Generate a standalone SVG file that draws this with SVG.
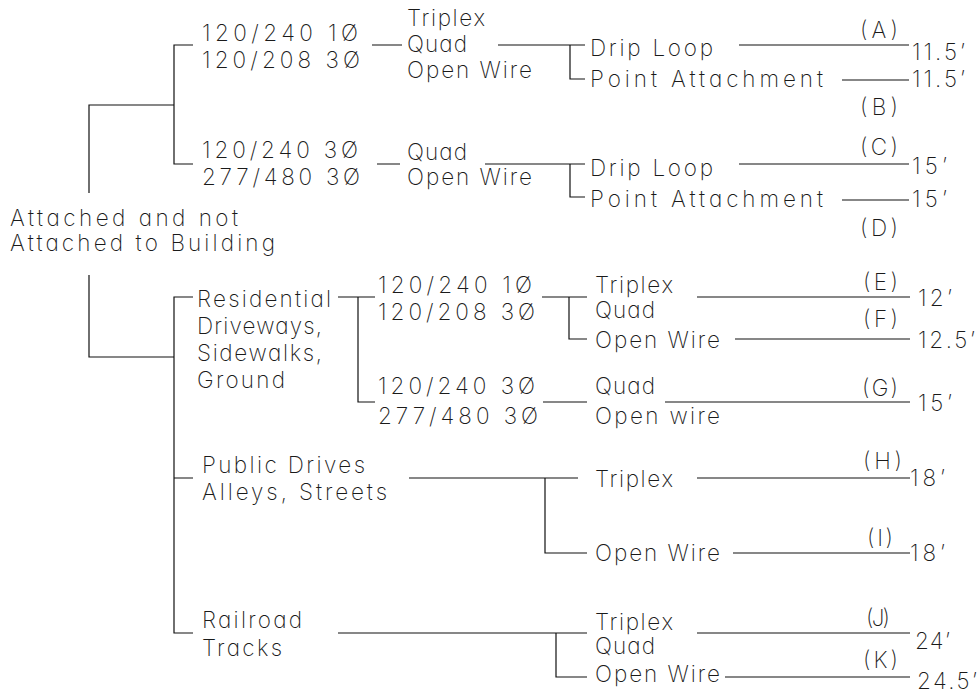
<svg xmlns="http://www.w3.org/2000/svg" width="980" height="698" viewBox="0 0 980 698">
<style>
.t{font-family:Inter,"Liberation Sans",sans-serif;font-size:22.5px;font-weight:250;fill:#1a1a1a;font-feature-settings:"cv11"}
.c{fill:none;stroke:#111;stroke-width:1.2}
</style>
<rect width="980" height="698" fill="#fff"/>
<g id="connectors" class="c">
<path d="M89,193V105H174M193,45H174V164H193"/>
<path d="M372,45H402M498,45H585M570,45V79H585M739,45H909M842,80H909"/>
<path d="M377,164H400M485,164H585M570,164V197H585M739,164H909M842,200H909"/>
<path d="M89,275V357H174M193,297H174V633H193M174,478H193"/>
<path d="M338,297H375M358,297V402H375M542,297H587M569,297V339H587M543,402H587M697,297H910M735,339H910M665,402H910"/>
<path d="M409,478H578M545,478V553H587M697,478H910M733,553H910"/>
<path d="M338,633H587M556,633V677H587M697,633H910M725,677H910"/>
</g>
<g id="root"><text class="t" x="10" y="226" textLength="228" lengthAdjust="spacing">Attached and not</text><text class="t" x="10" y="251" textLength="265" lengthAdjust="spacing">Attached to Building</text></g>
<g id="v1"><text class="t" x="202" y="41" textLength="156" lengthAdjust="spacing">120/240 1Ø</text><text class="t" x="202" y="68" textLength="158" lengthAdjust="spacing">120/208 3Ø</text></g>
<g id="w1"><text class="t" x="407" y="26" textLength="78" lengthAdjust="spacing">Triplex</text><text class="t" x="407" y="52" textLength="60" lengthAdjust="spacing">Quad</text><text class="t" x="407" y="78" textLength="125" lengthAdjust="spacing">Open Wire</text></g>
<g id="m1"><text class="t" x="590" y="56" textLength="123" lengthAdjust="spacing">Drip Loop</text><text class="t" x="590" y="87" textLength="233" lengthAdjust="spacing">Point Attachment</text></g>
<g id="rA"><text class="t" x="860" y="38" textLength="38" lengthAdjust="spacing">(A)</text><text class="t" x="912" y="60" textLength="53" lengthAdjust="spacing">11.5’</text></g>
<g id="rB"><text class="t" x="912" y="87" textLength="53" lengthAdjust="spacing">11.5’</text><text class="t" x="860" y="115" textLength="38" lengthAdjust="spacing">(B)</text></g>
<g id="v2"><text class="t" x="202" y="158" textLength="156" lengthAdjust="spacing">120/240 3Ø</text><text class="t" x="202" y="185" textLength="158" lengthAdjust="spacing">277/480 3Ø</text></g>
<g id="w2"><text class="t" x="407" y="160" textLength="60" lengthAdjust="spacing">Quad</text><text class="t" x="407" y="185" textLength="125" lengthAdjust="spacing">Open Wire</text></g>
<g id="m2"><text class="t" x="590" y="176" textLength="123" lengthAdjust="spacing">Drip Loop</text><text class="t" x="590" y="207" textLength="233" lengthAdjust="spacing">Point Attachment</text></g>
<g id="rC"><text class="t" x="860" y="155" textLength="38" lengthAdjust="spacing">(C)</text><text class="t" x="912" y="174" textLength="35" lengthAdjust="spacing">15’</text></g>
<g id="rD"><text class="t" x="912" y="207" textLength="35" lengthAdjust="spacing">15’</text><text class="t" x="860" y="236" textLength="38" lengthAdjust="spacing">(D)</text></g>
<g id="res"><text class="t" x="197" y="307" textLength="134" lengthAdjust="spacing">Residential</text><text class="t" x="197" y="334" textLength="125" lengthAdjust="spacing">Driveways,</text><text class="t" x="197" y="361" textLength="125" lengthAdjust="spacing">Sidewalks,</text><text class="t" x="197" y="388" textLength="88" lengthAdjust="spacing">Ground</text></g>
<g id="v3"><text class="t" x="378" y="293" textLength="154" lengthAdjust="spacing">120/240 1Ø</text><text class="t" x="378" y="320" textLength="157" lengthAdjust="spacing">120/208 3Ø</text></g>
<g id="v4"><text class="t" x="378" y="394" textLength="157" lengthAdjust="spacing">120/240 3Ø</text><text class="t" x="378" y="424" textLength="160" lengthAdjust="spacing">277/480 3Ø</text></g>
<g id="w3"><text class="t" x="595" y="293" textLength="78" lengthAdjust="spacing">Triplex</text><text class="t" x="595" y="318" textLength="60" lengthAdjust="spacing">Quad</text></g>
<g id="w4"><text class="t" x="595" y="348" textLength="125" lengthAdjust="spacing">Open Wire</text></g>
<g id="w5"><text class="t" x="595" y="394" textLength="60" lengthAdjust="spacing">Quad</text><text class="t" x="595" y="424" textLength="125" lengthAdjust="spacing">Open wire</text></g>
<g id="rE"><text class="t" x="863" y="290" textLength="35" lengthAdjust="spacing">(E)</text><text class="t" x="918" y="306" textLength="34" lengthAdjust="spacing">12’</text></g>
<g id="rF"><text class="t" x="863" y="327" textLength="35" lengthAdjust="spacing">(F)</text><text class="t" x="918" y="348" textLength="57" lengthAdjust="spacing">12.5’</text></g>
<g id="rG"><text class="t" x="862" y="396" textLength="36" lengthAdjust="spacing">(G)</text><text class="t" x="918" y="411" textLength="34" lengthAdjust="spacing">15’</text></g>
<g id="pub"><text class="t" x="202" y="473" textLength="163" lengthAdjust="spacing">Public Drives</text><text class="t" x="202" y="500" textLength="185" lengthAdjust="spacing">Alleys, Streets</text></g>
<g id="w6"><text class="t" x="595" y="487" textLength="78" lengthAdjust="spacing">Triplex</text></g>
<g id="w7"><text class="t" x="595" y="561" textLength="125" lengthAdjust="spacing">Open Wire</text></g>
<g id="rH"><text class="t" x="863" y="469" textLength="39" lengthAdjust="spacing">(H)</text><text class="t" x="910" y="486" textLength="35" lengthAdjust="spacing">18’</text></g>
<g id="rI"><text class="t" x="867" y="546" textLength="26" lengthAdjust="spacing">(I)</text><text class="t" x="910" y="561" textLength="35" lengthAdjust="spacing">18’</text></g>
<g id="rail"><text class="t" x="202" y="628" textLength="100" lengthAdjust="spacing">Railroad</text><text class="t" x="202" y="656" textLength="80" lengthAdjust="spacing">Tracks</text></g>
<g id="w8"><text class="t" x="595" y="630" textLength="78" lengthAdjust="spacing">Triplex</text><text class="t" x="595" y="654" textLength="60" lengthAdjust="spacing">Quad</text></g>
<g id="w9"><text class="t" x="595" y="682" textLength="125" lengthAdjust="spacing">Open Wire</text></g>
<g id="rJ"><text class="t" x="866" y="626" textLength="24" lengthAdjust="spacing">(J)</text><text class="t" x="915" y="649" textLength="35" lengthAdjust="spacing">24’</text></g>
<g id="rK"><text class="t" x="863" y="668" textLength="35" lengthAdjust="spacing">(K)</text><text class="t" x="917" y="689" textLength="60" lengthAdjust="spacing">24.5’</text></g>
</svg>
